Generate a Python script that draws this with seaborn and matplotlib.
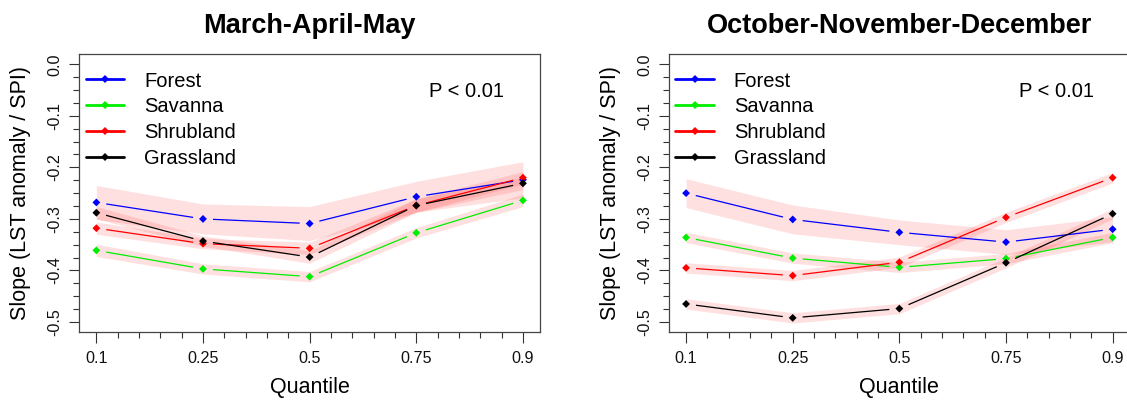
import numpy as np
import pandas as pd
import matplotlib
matplotlib.use("Agg")
import matplotlib.pyplot as plt
from matplotlib.lines import Line2D
from matplotlib.ticker import MultipleLocator
import seaborn as sns

# quantiles on the x axis (drawn at evenly spaced positions)
quantiles = ["0.1", "0.25", "0.5", "0.75", "0.9"]
covers = ["Forest", "Savanna", "Shrubland", "Grassland"]
colors = ["#0000FF", "#00EE00", "#FF0000", "#000000"]

# March-April-May slopes and band half-widths
mam_forest = [-0.268, -0.300, -0.309, -0.257, -0.224]
mam_savanna = [-0.361, -0.397, -0.412, -0.327, -0.264]
mam_shrub = [-0.318, -0.348, -0.357, -0.274, -0.220]
mam_grass = [-0.288, -0.343, -0.374, -0.274, -0.231]
mam_forest_hw = [0.033, 0.029, 0.033, 0.030, 0.035]
mam_savanna_hw = [0.012, 0.010, 0.010, 0.010, 0.012]
mam_shrub_hw = [0.012, 0.010, 0.012, 0.013, 0.012]
mam_grass_hw = [0.012, 0.010, 0.012, 0.013, 0.012]

# October-November-December slopes and band half-widths
ond_forest = [-0.250, -0.301, -0.326, -0.345, -0.320]
ond_savanna = [-0.336, -0.376, -0.394, -0.377, -0.336]
ond_shrub = [-0.395, -0.410, -0.384, -0.297, -0.220]
ond_grass = [-0.465, -0.492, -0.474, -0.385, -0.290]
ond_forest_hw = [0.028, 0.028, 0.024, 0.024, 0.024]
ond_savanna_hw = [0.010, 0.010, 0.010, 0.010, 0.010]
ond_shrub_hw = [0.010, 0.010, 0.010, 0.010, 0.010]
ond_grass_hw = [0.010, 0.010, 0.010, 0.010, 0.010]

panels = [
    ("March-April-May",
     [mam_forest, mam_savanna, mam_shrub, mam_grass],
     [mam_forest_hw, mam_savanna_hw, mam_shrub_hw, mam_grass_hw]),
    ("October-November-December",
     [ond_forest, ond_savanna, ond_shrub, ond_grass],
     [ond_forest_hw, ond_savanna_hw, ond_shrub_hw, ond_grass_hw]),
]

sns.set_theme(style="ticks")
plt.rcParams["font.family"] = ["Liberation Sans", "DejaVu Sans"]
plt.rcParams["axes.unicode_minus"] = False
plt.rcParams["text.color"] = "black"
plt.rcParams["axes.labelcolor"] = "black"

W, H = 1127, 404
fig = plt.figure(figsize=(W / 100, H / 100), dpi=100)
boxes = [(79.3, 540.0), (669.0, 1129.7)]
top_px, bot_px = 54.0, 332.3
xpos = np.arange(1, len(quantiles) + 1)


# R type="b": segments stop short of the points
def gapped_line(ax, xs, ys, color, gap=10):
    pts = ax.transData.transform(np.column_stack([xs, ys]))
    inv = ax.transData.inverted()
    for p0, p1 in zip(pts[:-1], pts[1:]):
        d = p1 - p0
        u = d / np.hypot(*d)
        seg = inv.transform(np.array([p0 + u * gap, p1 - u * gap]))
        ax.plot(seg[:, 0], seg[:, 1], color=color, lw=0.9, zorder=3,
                solid_capstyle="butt")


for (x0, x1), (title, series, halfw) in zip(boxes, panels):
    ax = fig.add_axes([x0 / W, 1 - bot_px / H, (x1 - x0) / W, (bot_px - top_px) / H])
    ax.set_xlim(0.84, 5.16)
    ax.set_ylim(-0.52, 0.02)

    rows = []
    for name, col, ys, hw in zip(covers, colors, series, halfw):
        ys = np.array(ys)
        hw = np.array(hw)
        ax.fill_between(xpos, ys - hw, ys + hw, color="red", alpha=0.12, lw=0, zorder=1)
        gapped_line(ax, xpos, ys, col)
        for x, y in zip(xpos, ys):
            rows.append({"cover": name, "x": x, "slope": y})
    df = pd.DataFrame(rows)
    sns.scatterplot(data=df, x="x", y="slope", hue="cover", palette=dict(zip(covers, colors)),
                    marker="D", s=16, linewidth=0, legend=False, ax=ax, zorder=4)

    ax.set_xticks(xpos)
    ax.set_xticklabels(quantiles)
    ax.xaxis.set_minor_locator(MultipleLocator(0.2))
    yt = [0.0, -0.1, -0.2, -0.3, -0.4, -0.5]
    ax.set_yticks(yt)
    ax.set_yticklabels(["0.0", "-0.1", "-0.2", "-0.3", "-0.4", "-0.5"])
    ax.yaxis.set_minor_locator(MultipleLocator(0.025))
    ax.tick_params(axis="x", which="major", length=8, width=0.8, pad=5.5,
                   labelsize=11.6, colors="#333333", labelcolor="#111111")
    ax.tick_params(axis="x", which="minor", length=4.3, width=0.8, colors="#333333")
    ax.tick_params(axis="y", which="major", length=7.2, width=0.8, pad=5,
                   labelsize=11.6, labelrotation=90, colors="#333333", labelcolor="#111111")
    ax.tick_params(axis="y", which="minor", length=4.3, width=0.8, colors="#333333")
    for lab in ax.get_yticklabels():
        lab.set_va("center")
    for s in ax.spines.values():
        s.set_visible(True)
        s.set_color("#444444")
        s.set_linewidth(0.9)

    ax.set_xlabel("Quantile", fontsize=15.5, va="center")
    ax.xaxis.set_label_coords(0.5, -0.200)
    ax.set_ylabel("Slope (LST anomaly / SPI)", fontsize=15.5, va="center")
    ax.yaxis.set_label_coords(-0.1266, 0.5)
    ax.set_title(title, fontsize=19.5, fontweight="bold", pad=15)

    ax.text(0.759, 0.8645, "P < 0.01", transform=ax.transAxes, fontsize=14.5,
            ha="left", va="center")

    handles = [Line2D([], [], color=c, lw=2, marker="D", ms=4.2, markeredgewidth=0)
               for c in colors]
    ax.legend(handles, covers, loc="upper left", bbox_to_anchor=(0.014, 0.937),
              frameon=False, fontsize=14.5, handlelength=1.9, handletextpad=1.0,
              labelspacing=0.34, borderpad=0, borderaxespad=0)

fig.savefig("out.png", dpi=100)
